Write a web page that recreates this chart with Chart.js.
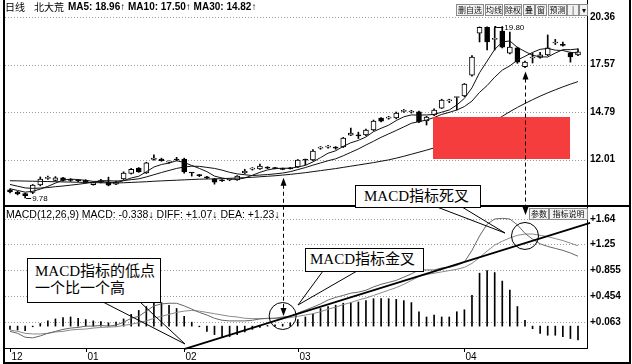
<!DOCTYPE html>
<html>
<head>
<meta charset="utf-8">
<title>北大荒 日线 MACD</title>
<script src="https://cdn.jsdelivr.net/npm/chart.js@4.4.1/dist/chart.umd.min.js"></script>
<style>
  body { margin: 0; background: #fff; }
  #wrap { position: relative; width: 632px; height: 364px; overflow: hidden; background: #fff; font-family: "Liberation Sans", Arial, sans-serif; color: #000; }
  #wrap canvas { position: absolute; }
  .t { position: absolute; white-space: nowrap; line-height: 12px; }
  .btn { position: absolute; height: 10px; border: 1px solid #8a8a8a; background: #f2f2f2; font: 8px/10px "Noto Sans CJK SC", sans-serif; text-align: center; color: #111; overflow: hidden; }
  .box { position: absolute; border: 1px solid #000; background: #fff; font-family: "Liberation Serif", "Noto Sans CJK SC", serif; font-size: 15px; line-height: 17px; white-space: nowrap; box-sizing: border-box; }
  #redact { position: absolute; left: 433px; top: 117px; width: 137px; height: 42px; background: #f53d3d; }
</style>
</head>
<body>
<div id="wrap">
  <canvas id="priceChart" width="625" height="203" style="left:5px;top:3px;width:625px;height:203px"></canvas>
  <canvas id="macdChart" width="625" height="157" style="left:5px;top:206px;width:625px;height:157px"></canvas>
  <div id="redact"></div>
  <canvas id="marks" width="632" height="364" style="left:0;top:0;width:632px;height:364px"></canvas>

  <div class="t" style="left:5px;top:1px;font-size:10px;font-family:'Noto Sans CJK SC'">日线</div>
  <div class="t" style="left:34px;top:1px;font-size:10px;font-family:'Noto Sans CJK SC'">北大荒</div>
  <div class="t" style="left:68px;top:1px;font-size:10px;font-weight:bold">MA5: 18.96↑ MA10: 17.50↑ MA30: 14.82↑</div>
  <div class="t" style="left:6px;top:208px;font-size:10.5px">MACD(12,26,9) MACD: -0.338↓ DIFF: +1.07↓ DEA: +1.23↓</div>

  <div class="btn" style="left:456px;top:4px;width:26px">删自选</div>
  <div class="btn" style="left:485px;top:4px;width:16px">均线</div>
  <div class="btn" style="left:504px;top:4px;width:16px">除权</div>
  <div class="btn" style="left:523px;top:4px;width:10px">叠</div>
  <div class="btn" style="left:535px;top:4px;width:10px">窗</div>
  <div class="btn" style="left:548px;top:4px;width:17px">预测</div>
  <div class="btn" style="left:567px;top:4px;width:10px">|◀</div>
  <div class="btn" style="left:579px;top:4px;width:7px">▾</div>
  <div class="btn" style="left:529px;top:208px;width:18px">参数</div>
  <div class="btn" style="left:549px;top:208px;width:37px">指标说明</div>

  <div class="box" style="left:27px;top:258px;width:134px;height:45px;padding:4px 0 0 7px">MACD指标的低点<br>一个比一个高</div>
  <div class="box" style="left:305px;top:248px;width:119px;height:24px;padding:2px 0 0 4px">MACD指标金叉</div>
  <div class="box" style="left:355px;top:185px;width:126px;height:23px;padding:2px 0 0 8px">MACD指标死叉</div>
</div>

<script>
// daily candles, Dec - Apr
const open = [10.24,10.12,10.02,10.10,10.53,10.92,10.80,10.95,10.82,10.79,
  10.80,10.55,10.68,10.70,10.58,10.88,11.20,11.52,11.23,12.02,
  12.05,11.87,12.00,12.05,11.24,11.14,11.00,10.88,10.80,10.82,
  10.82,11.23,11.46,11.47,11.53,11.55,11.50,11.54,11.58,12.00,
  11.99,12.69,12.75,12.70,12.76,13.45,13.42,13.46,13.75,14.45,
  14.44,14.45,14.84,14.80,14.81,14.28,14.63,15.03,15.45,15.65,
  15.74,16.95,19.42,19.75,19.05,19.54,18.25,18.55,17.45,17.96,
  18.00,18.14,18.84,18.76,18.26,18.14];
const high = [10.30,10.16,10.05,10.56,11.00,11.05,11.02,10.98,10.90,10.85,
  10.84,10.70,10.86,10.99,10.76,11.30,11.50,11.55,11.86,12.29,
  12.10,11.95,12.15,12.10,11.26,11.15,11.03,10.92,10.84,10.88,
  11.08,11.45,11.55,11.75,11.60,11.57,11.52,11.56,12.02,12.05,
  12.60,12.78,12.85,12.78,13.32,13.86,13.62,13.80,14.33,14.48,
  14.55,14.80,14.95,14.90,14.85,14.55,14.98,15.55,15.55,15.68,
  16.47,18.10,19.78,19.78,19.72,19.80,19.48,18.60,17.78,18.25,
  18.30,19.31,19.05,18.90,18.30,18.50];
const low = [10.06,9.95,9.78,10.02,10.48,10.85,10.76,10.76,10.74,10.72,
  10.64,10.52,10.65,10.48,10.55,10.85,11.17,11.27,11.20,11.98,
  11.92,11.80,11.94,11.22,11.05,11.02,10.90,10.58,10.74,10.78,
  10.80,11.20,11.40,11.44,11.48,11.47,11.42,11.46,11.55,11.70,
  11.95,12.62,12.68,12.62,12.72,13.42,13.25,13.42,13.70,14.22,
  14.38,14.40,14.78,14.74,14.18,14.04,14.58,15.00,15.35,14.92,
  15.70,16.90,18.90,18.43,18.43,18.55,18.20,17.65,17.40,17.67,
  17.95,18.10,18.75,18.65,17.72,18.10];
const close = [10.12,10.00,9.90,10.53,10.88,10.94,10.95,10.80,10.80,10.78,
  10.68,10.66,10.79,10.52,10.72,11.23,11.45,11.30,11.82,12.11,
  11.95,11.88,11.99,11.30,11.23,11.08,10.94,10.70,10.77,10.84,
  11.05,11.35,11.47,11.64,11.52,11.49,11.44,11.48,11.99,11.98,
  12.52,12.70,12.76,12.69,13.28,13.57,13.40,13.75,14.27,14.27,
  14.45,14.74,14.86,14.81,14.22,14.50,14.92,15.50,15.48,15.66,
  16.44,18.02,19.76,18.90,19.07,18.60,18.60,17.72,17.72,17.98,
  18.14,18.55,18.86,18.70,18.02,18.32];

const ma5 = [10.31,10.21,10.11,10.16,10.29,10.45,10.64,10.82,10.87,10.85,
  10.80,10.74,10.74,10.69,10.67,10.78,10.94,11.04,11.30,11.58,
  11.73,11.81,11.95,11.85,11.67,11.50,11.31,11.05,10.94,10.87,
  10.86,10.94,11.10,11.27,11.41,11.49,11.51,11.51,11.58,11.68,
  11.88,12.13,12.39,12.53,12.79,13.00,13.14,13.34,13.65,13.85,
  14.03,14.30,14.52,14.63,14.62,14.63,14.66,14.79,14.92,15.21,
  15.60,16.22,17.10,17.78,18.46,18.90,18.96,18.58,18.34,18.12,
  18.03,18.02,18.25,18.45,18.45,18.49];
const ma10 = [10.56,10.46,10.36,10.33,10.35,10.38,10.43,10.47,10.52,10.57,
  10.63,10.69,10.78,10.78,10.76,10.79,10.84,10.89,11.00,11.13,
  11.26,11.38,11.50,11.58,11.63,11.62,11.56,11.50,11.40,11.27,
  11.18,11.13,11.08,11.11,11.14,11.18,11.23,11.31,11.43,11.55,
  11.69,11.82,11.95,12.06,12.24,12.44,12.64,12.87,13.09,13.32,
  13.52,13.72,13.93,14.14,14.24,14.33,14.48,14.66,14.78,14.92,
  15.12,15.44,15.95,16.35,16.84,17.25,17.50,17.84,18.06,18.29,
  18.47,18.52,18.42,18.40,18.29,18.26];
const ma30 = [10.78,10.77,10.76,10.75,10.74,10.73,10.72,10.71,10.70,10.69,
  10.68,10.67,10.66,10.65,10.65,10.66,10.68,10.70,10.72,10.75,
  10.77,10.79,10.81,10.83,10.85,10.87,10.88,10.89,10.90,10.92,
  10.94,10.96,10.98,11.01,11.04,11.07,11.11,11.15,11.20,11.25,
  11.31,11.37,11.43,11.49,11.56,11.63,11.70,11.77,11.84,11.92,
  12.00,12.10,12.21,12.33,12.45,12.57,12.70,12.85,13.00,13.16,
  13.33,13.52,13.74,14.00,14.27,14.55,14.82,15.07,15.30,15.52,
  15.73,15.92,16.10,16.27,16.43,16.58];

const diff = [-0.08,-0.11,-0.17,-0.18,-0.15,-0.11,-0.08,-0.05,-0.03,-0.02,
  0.00,0.00,0.01,0.00,0.015,0.06,0.12,0.15,0.23,0.31,
  0.34,0.35,0.35,0.31,0.26,0.21,0.17,0.12,0.09,0.08,
  0.08,0.08,0.09,0.11,0.12,0.12,0.14,0.15,0.20,0.245,
  0.29,0.34,0.40,0.44,0.47,0.505,0.52,0.55,0.60,0.64,
  0.67,0.70,0.75,0.80,0.86,0.86,0.86,0.89,0.90,0.93,
  0.98,1.16,1.38,1.56,1.64,1.65,1.64,1.55,1.42,1.33,
  1.26,1.22,1.19,1.16,1.12,1.07];
const dea = [-0.06,-0.08,-0.11,-0.12,-0.12,-0.11,-0.09,-0.08,-0.06,-0.05,
  -0.045,-0.03,-0.02,-0.015,-0.01,0.01,0.03,0.05,0.08,0.12,
  0.15,0.18,0.21,0.23,0.24,0.23,0.21,0.19,0.17,0.15,
  0.14,0.12,0.115,0.115,0.115,0.12,0.125,0.13,0.15,0.17,
  0.19,0.22,0.26,0.29,0.33,0.36,0.40,0.43,0.47,0.51,
  0.55,0.59,0.64,0.70,0.76,0.79,0.81,0.83,0.85,0.87,
  0.90,0.96,1.05,1.15,1.24,1.30,1.35,1.39,1.41,1.41,
  1.39,1.37,1.34,1.31,1.27,1.23];
const macd = [-0.05,-0.06,-0.07,-0.01,0.04,0.08,0.11,0.13,0.14,0.12,
  0.10,0.08,0.07,0.05,0.06,0.11,0.18,0.24,0.30,0.35,
  0.36,0.32,0.27,0.15,0.06,-0.01,-0.08,-0.13,-0.16,-0.16,
  -0.13,-0.09,-0.05,-0.02,0.01,0.02,0.03,0.05,0.10,0.14,
  0.19,0.27,0.30,0.32,0.35,0.36,0.37,0.39,0.42,0.42,
  0.42,0.41,0.39,0.36,0.22,0.14,0.17,0.14,0.14,0.22,
  0.25,0.47,0.81,0.85,0.82,0.69,0.55,0.30,0.09,-0.04,
  -0.11,-0.14,-0.14,-0.16,-0.19,-0.21];

const priceTicks = [20.36, 17.57, 14.79, 12.01];
const macdTicks = [1.64, 1.25, 0.855, 0.454, 0.063];
const macdTickLabels = ['+1.64', '+1.25', '+0.855', '+0.454', '+0.063'];
const monthLabels = ['12', '01', '02', '03', '04'];
const monthStart = [0, 10, 23, 38, 60];

const days = open.map((_, i) => i);
const pts = arr => days.map(i => ({ x: i, y: arr[i] }));
const xScale = { type: 'linear', display: false, offset: false, min: -0.66, max: 76.32 };

// dotted horizontal grid at the tick values
function dottedGrid(ticks) {
  return {
    id: 'dottedGrid',
    beforeDatasetsDraw(chart) {
      const { ctx, chartArea, scales } = chart;
      ctx.save();
      ctx.strokeStyle = '#9c9c9c';
      ctx.lineWidth = 1;
      ctx.setLineDash([1, 2]);
      ticks.forEach(v => {
        const y = Math.round(scales.y.getPixelForValue(v)) + 0.5;
        ctx.beginPath();
        ctx.moveTo(chartArea.left, y);
        ctx.lineTo(chartArea.right, y);
        ctx.stroke();
      });
      ctx.restore();
    }
  };
}

function rightLabels(ticks, texts) {
  return {
    id: 'rightLabels',
    afterDraw(chart) {
      const { ctx, chartArea, scales } = chart;
      ctx.save();
      ctx.font = 'bold 10px "Liberation Sans", Arial';
      ctx.fillStyle = '#000';
      ctx.textBaseline = 'middle';
      ticks.forEach((v, k) => {
        ctx.fillText(texts[k], chartArea.right + 2, scales.y.getPixelForValue(v));
      });
      ctx.restore();
    }
  };
}

// max / min price markers
const extremes = {
  id: 'extremes',
  afterDatasetsDraw(chart) {
    const { ctx, scales } = chart;
    const hi = Math.max(...high), lo = Math.min(...low);
    const iHi = high.indexOf(hi), iLo = low.indexOf(lo);
    ctx.save();
    ctx.font = '8px "Liberation Sans", Arial';
    ctx.fillStyle = '#000';
    ctx.strokeStyle = '#000';
    ctx.lineWidth = 1;
    ctx.textBaseline = 'middle';
    let x = scales.x.getPixelForValue(iHi), y = Math.round(scales.y.getPixelForValue(hi)) + 0.5;
    ctx.fillRect(x - 8, y - 1.5, 2, 2);
    ctx.beginPath(); ctx.moveTo(x - 6, y); ctx.lineTo(x + 1, y); ctx.stroke();
    ctx.fillText(hi.toFixed(2), x + 2, y);
    x = scales.x.getPixelForValue(iLo); y = Math.round(scales.y.getPixelForValue(lo)) + 0.5;
    ctx.beginPath(); ctx.moveTo(x + 1, y); ctx.lineTo(x + 6, y); ctx.stroke();
    ctx.fillText(lo.toFixed(2), x + 7, y);
    ctx.restore();
  }
};

const monthAxis = {
  id: 'monthAxis',
  afterDraw(chart) {
    const { ctx, chartArea, scales } = chart;
    ctx.save();
    ctx.font = '10px "Liberation Sans", Arial';
    ctx.fillStyle = '#000';
    ctx.strokeStyle = '#000';
    ctx.textBaseline = 'middle';
    monthStart.forEach((m, k) => {
      const x = Math.round(scales.x.getPixelForValue(m)) + 0.5;
      ctx.beginPath(); ctx.moveTo(x, chartArea.bottom); ctx.lineTo(x, chartArea.bottom + 4); ctx.stroke();
      ctx.fillText(monthLabels[k], x + 1, chartArea.bottom + 9);
    });
    ctx.restore();
  }
};

const priceChart = new Chart(document.getElementById('priceChart'), {
  type: 'bar',
  data: {
    datasets: [
      { type: 'line', data: pts(ma5), borderColor: '#111', borderWidth: 1, pointRadius: 0, order: 0 },
      { type: 'line', data: pts(ma10), borderColor: '#111', borderWidth: 1, pointRadius: 0, order: 0 },
      { type: 'line', data: pts(ma30), borderColor: '#111', borderWidth: 1, pointRadius: 0, order: 0 },
      {
        data: days.map(i => ({ x: i, y: [open[i], close[i]] })),
        backgroundColor: days.map(i => close[i] >= open[i] ? '#fff' : '#000'),
        borderColor: '#000', borderWidth: 1, borderSkipped: false,
        barThickness: 5, minBarLength: 1, grouped: false, order: 1
      },
      {
        data: days.map(i => ({ x: i, y: [low[i], high[i]] })),
        backgroundColor: '#000', barThickness: 1, grouped: false, order: 2
      }
    ]
  },
  options: {
    responsive: false,
    animation: false,
    devicePixelRatio: 1,
    layout: { padding: { left: 0, right: 42, top: 0, bottom: 0 } },
    scales: {
      x: xScale,
      y: { display: false, min: 9.30, max: 21.18 }
    },
    plugins: { legend: { display: false }, tooltip: { enabled: false } }
  },
  plugins: [dottedGrid(priceTicks), rightLabels(priceTicks, priceTicks.map(v => v.toFixed(2))), extremes]
});

const macdChart = new Chart(document.getElementById('macdChart'), {
  type: 'bar',
  data: {
    datasets: [
      { type: 'line', data: pts(diff), borderColor: '#666', borderWidth: 1, pointRadius: 0, order: 0 },
      { type: 'line', data: pts(dea), borderColor: '#8a8a8a', borderWidth: 1, pointRadius: 0, order: 1 },
      { data: pts(macd), backgroundColor: '#000', barThickness: 1, grouped: false, order: 2 }
    ]
  },
  options: {
    responsive: false,
    animation: false,
    devicePixelRatio: 1,
    layout: { padding: { left: 0, right: 42, top: 0, bottom: 15 } },
    scales: {
      x: xScale,
      y: { display: false, min: -0.335, max: 1.839 }
    },
    plugins: { legend: { display: false }, tooltip: { enabled: false } }
  },
  plugins: [dottedGrid(macdTicks), rightLabels(macdTicks, macdTickLabels), monthAxis]
});

// frame, arrows, circles, trend line and callout pointers
const m = document.getElementById('marks').getContext('2d');
const px = i => 5 + macdChart.scales.x.getPixelForValue(i);
const pyA = v => 3 + priceChart.scales.y.getPixelForValue(v);
const pyB = v => 206 + macdChart.scales.y.getPixelForValue(v);

m.fillStyle = '#000';
m.strokeStyle = '#000';
m.fillRect(3, 0, 2, 364);
m.fillRect(629, 0, 2, 364);
m.fillRect(3, 205, 628, 2);
m.fillRect(587, 0, 1, 349);
m.fillRect(5, 348, 583, 1);
m.fillRect(3, 362, 628, 2);

function dashedArrow(x, yTop, yBottom) {
  m.save();
  m.lineWidth = 1;
  m.setLineDash([4, 3]);
  m.beginPath(); m.moveTo(x, yTop + 7); m.lineTo(x, yBottom - 7); m.stroke();
  m.setLineDash([]);
  m.beginPath(); m.moveTo(x, yTop); m.lineTo(x - 3, yTop + 8); m.lineTo(x + 3, yTop + 8); m.closePath(); m.fill();
  m.beginPath(); m.moveTo(x, yBottom); m.lineTo(x - 3, yBottom - 8); m.lineTo(x + 3, yBottom - 8); m.closePath(); m.fill();
  m.restore();
}
dashedArrow(Math.round(px(36)) + 0.5, pyA(low[36]) + 8, pyB(diff[36]) - 1);
dashedArrow(Math.round(px(68)) + 0.5, pyA(low[68]) + 4, 215);

m.lineWidth = 1;
m.beginPath(); m.arc(px(36), pyB(0.155), 13.5, 0, Math.PI * 2); m.stroke();
m.beginPath(); m.arc(px(68), pyB(1.38), 13.5, 0, Math.PI * 2); m.stroke();

m.lineWidth = 1.8;
m.beginPath(); m.moveTo(px(23.1), pyB(-0.35)); m.lineTo(px(76.6), pyB(1.58)); m.stroke();

m.lineWidth = 1;
function pointer(x1, x2, yEdge, ax, ay) {
  m.beginPath();
  m.moveTo(x1, yEdge); m.lineTo(ax, ay); m.lineTo(x2, yEdge);
  m.stroke();
}
pointer(103, 140, 302, 185, 344);
pointer(323, 357, 271, 298, 305);
pointer(437, 462, 207, 505, 233);
</script>
</body>
</html>
